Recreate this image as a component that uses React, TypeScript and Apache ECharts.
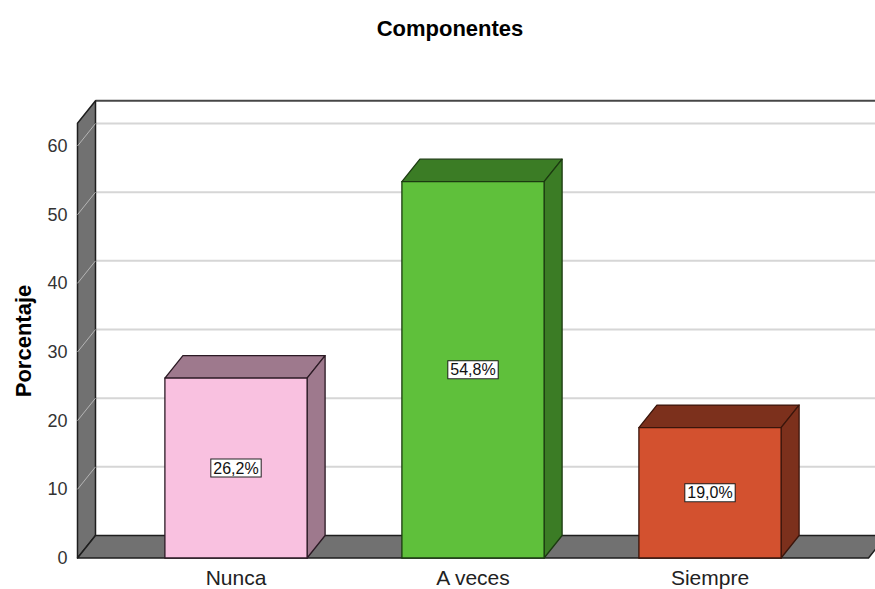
import React, { useEffect, useRef } from "react";
import * as echarts from "echarts";

const categories = ["Nunca", "A veces", "Siempre"];
const percentages = [26.2, 54.8, 19.0];
const yTicks = [0, 10, 20, 30, 40, 50, 60];
const frontColors = ["#f9c1e0", "#5fc03b", "#d3512f"];
const sideColors = ["#9e798d", "#3b7c25", "#7c301c"];
const edgeColors = ["#2b1a24", "#1b3a10", "#3a150b"];

const DX = 18;
const DY = -22.5;
const WALL_TOP = 63.3;
const WALL_PAD_L = 40;
const WALL_PAD_R = 40;
const BAR_RATIO = 0.6;
const FONT = "Arial, 'Liberation Sans', sans-serif";

export default function App() {
  const ref = useRef<HTMLDivElement>(null);
  useEffect(() => {
    if (!ref.current) return;
    const chart = echarts.init(ref.current, undefined, { renderer: "svg" });

    const wallSeries: any = {
      type: "custom",
      z: 1,
      clip: false,
      silent: true,
      data: [[0, 0]],
      renderItem: (params: any, api: any) => {
        const cs = params.coordSys;
        const xFL = cs.x - WALL_PAD_L;
        const xFR = cs.x + cs.width + WALL_PAD_R;
        const xBL = xFL + DX;
        const xBR = xFR + DX;
        const y0 = api.coord([0, 0])[1];
        const yTop = api.coord([0, WALL_TOP])[1];
        const children: any[] = [];
        yTicks.forEach((t) => {
          if (t === 0) return;
          const y = api.coord([0, t])[1];
          children.push({
            type: "line",
            shape: { x1: xBL, y1: y + DY, x2: xBR + 40, y2: y + DY },
            style: { stroke: "#d6d6d6", lineWidth: 2 },
          });
        });
        children.push({
          type: "line",
          shape: { x1: xBL, y1: yTop + DY, x2: xBR + 40, y2: yTop + DY },
          style: { stroke: "#474747", lineWidth: 2 },
        });
        children.push({
          type: "polygon",
          shape: {
            points: [
              [xFL, y0],
              [xFL, yTop],
              [xBL, yTop + DY],
              [xBL, y0 + DY],
            ],
          },
          style: { fill: "#717171", stroke: "#1e1e1e", lineWidth: 1.5, lineJoin: "round" },
        });
        yTicks.forEach((t) => {
          if (t === 0) return;
          const y = api.coord([0, t])[1];
          children.push({
            type: "line",
            shape: { x1: xFL, y1: y, x2: xBL, y2: y + DY },
            style: { stroke: "#b5b5b5", lineWidth: 1 },
          });
        });
        children.push({
          type: "polygon",
          shape: {
            points: [
              [xFL, y0],
              [xBL, y0 + DY],
              [xBR, y0 + DY],
              [xFR, y0],
            ],
          },
          style: { fill: "#717171", stroke: "#1e1e1e", lineWidth: 1.5, lineJoin: "round" },
        });
        return { type: "group", children };
      },
    };

    const barSeries: any = {
      type: "custom",
      z: 2,
      clip: false,
      data: categories.map((c, i) => [i, percentages[i]]),
      renderItem: (params: any, api: any) => {
        const i = params.dataIndex;
        const v = api.value(1) as number;
        const [cx, yTop] = api.coord([api.value(0), v]);
        const yBase = api.coord([api.value(0), 0])[1];
        const bw = api.size([1, 0])[0] * BAR_RATIO;
        const x0 = cx - bw / 2;
        const x1 = cx + bw / 2;
        const edge = edgeColors[i];
        const label = v.toFixed(1).replace(".", ",") + "%";
        return {
          type: "group",
          children: [
            {
              type: "polygon",
              shape: {
                points: [
                  [x0, yTop],
                  [x0 + DX, yTop + DY],
                  [x1 + DX, yTop + DY],
                  [x1, yTop],
                ],
              },
              style: { fill: sideColors[i], stroke: edge, lineWidth: 1.3, lineJoin: "round" },
            },
            {
              type: "polygon",
              shape: {
                points: [
                  [x1, yTop],
                  [x1 + DX, yTop + DY],
                  [x1 + DX, yBase + DY],
                  [x1, yBase],
                ],
              },
              style: { fill: sideColors[i], stroke: edge, lineWidth: 1.3, lineJoin: "round" },
            },
            {
              type: "rect",
              shape: { x: x0, y: yTop, width: bw, height: yBase - yTop },
              style: { fill: frontColors[i], stroke: edge, lineWidth: 1.3 },
            },
            {
              type: "text",
              x: cx,
              y: (yTop + yBase) / 2,
              style: {
                text: label,
                fill: "#111",
                font: `16px ${FONT}`,
                align: "center",
                verticalAlign: "middle",
                backgroundColor: "#ffffff",
                borderColor: "#222",
                borderWidth: 1,
                padding: [1, 2, 0, 2],
              },
            },
          ],
        };
      },
    };

    chart.setOption({
      animation: false,
      backgroundColor: "#ffffff",
      grid: {
        left: 117.5,
        right: 46.5,
        top: 146,
        bottom: 31,
        containLabel: false,
        outerBoundsMode: "none",
      },
      graphic: [
        {
          type: "text",
          x: 450,
          y: 28,
          style: {
            text: "Componentes",
            font: `bold 22px ${FONT}`,
            fill: "#000",
            align: "center",
            verticalAlign: "middle",
          },
        },
        {
          type: "text",
          x: 23,
          y: 341,
          rotation: Math.PI / 2,
          style: {
            text: "Porcentaje",
            font: `bold 22px ${FONT}`,
            fill: "#000",
            align: "center",
            verticalAlign: "middle",
          },
        },
      ],
      xAxis: {
        type: "category",
        data: categories,
        axisLine: { show: false },
        axisTick: { show: false },
        axisLabel: { fontSize: 21, color: "#222", fontFamily: FONT, margin: 9 },
      },
      yAxis: {
        type: "value",
        min: 0,
        max: 60,
        interval: 10,
        axisLine: { show: false },
        axisTick: { show: false },
        splitLine: { show: false },
        axisLabel: {
          fontSize: 18,
          color: "#333",
          fontFamily: FONT,
          margin: 50,
          padding: [7, 0, 0, 0],
        },
      },
      series: [wallSeries, barSeries],
    });

    return () => chart.dispose();
  }, []);

  return (
    <div
      ref={ref}
      style={{ position: "fixed", left: 0, top: 0, width: 875, height: 589 }}
    />
  );
}
